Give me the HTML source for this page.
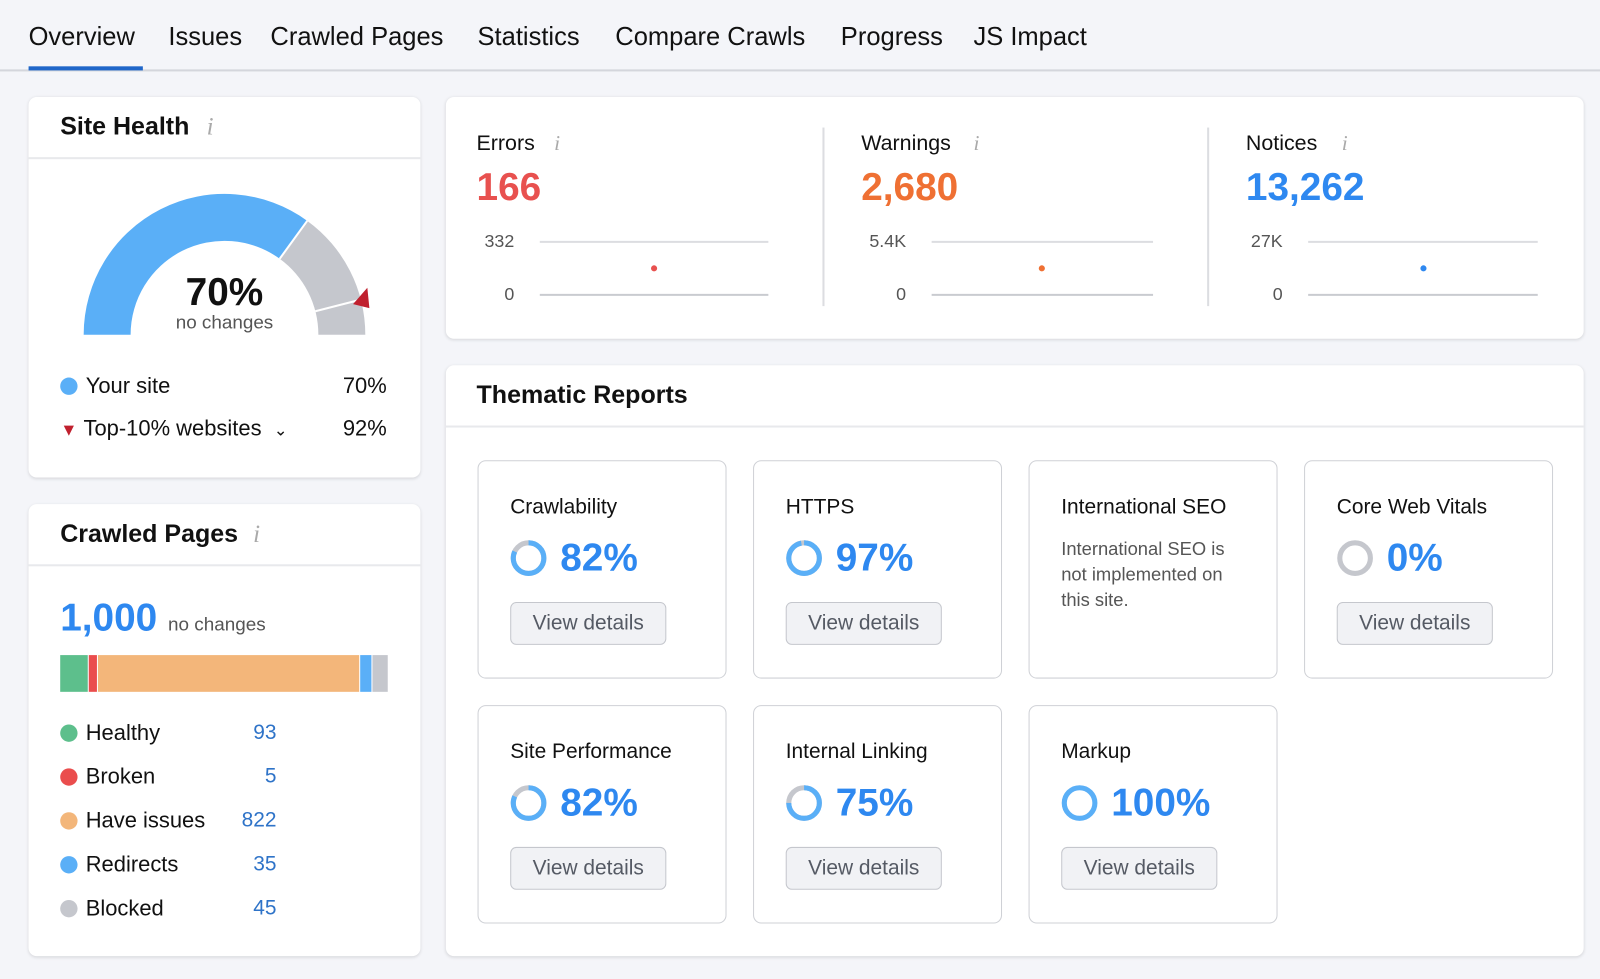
<!DOCTYPE html>
<html><head><meta charset="utf-8"><style>
html,body{margin:0;padding:0;width:1600px;height:979px;overflow:hidden;background:#f4f5f9;font-family:"Liberation Sans",Arial,sans-serif;color:#111}
#w{position:absolute;left:0;top:0;width:1568px;height:959px;transform:scale(1.0204);transform-origin:0 0}
.a{position:absolute;white-space:nowrap}
.card{position:absolute;background:#fff;border-radius:8px;box-shadow:0 1px 3px rgba(0,0,0,.12)}
.tile{position:absolute;width:242px;height:212px;border:1.5px solid #cfd1d6;border-radius:8px;background:#fff}
.tile .t{position:absolute;left:31px;top:33px;font-size:20.5px}
.tile .p{position:absolute;left:80px;top:74px;font-size:38px;font-weight:bold;color:#2e88f0}
.tile svg{position:absolute;left:31px;top:77px}
.tile .b{position:absolute;left:31px;top:138px;width:151px;height:40px;border:1.5px solid #c5c7cd;border-radius:6px;background:#f1f2f5;color:#555a64;font-size:20.5px;line-height:40px;text-align:center}
.lg{font-size:21.5px}
.dot{display:inline-block;width:17px;height:17px;border-radius:50%;vertical-align:-2px;margin-right:8px}
.num{font-size:20.5px;color:#2e73c8}
.tab{position:absolute;top:22px;font-size:25px;white-space:nowrap}
</style></head><body><div id="w">
<div class="tab" style="left:28px">Overview</div>
<div class="tab" style="left:165px">Issues</div>
<div class="tab" style="left:265px">Crawled Pages</div>
<div class="tab" style="left:468px">Statistics</div>
<div class="tab" style="left:603px">Compare Crawls</div>
<div class="tab" style="left:824px">Progress</div>
<div class="tab" style="left:954px">JS Impact</div>
<div class="a" style="left:0;top:68px;width:1568px;height:2px;background:#d4d6dc"></div>
<div class="a" style="left:28px;top:65px;width:112px;height:4px;background:#1f66c9"></div>

<div class="card" style="left:28px;top:95px;width:384px;height:373px">
<div class="a" style="left:31px;top:16px;font-size:24.5px;font-weight:bold">Site Health <span style="color:#aaa;font-style:italic;font-weight:normal;font-family:'Liberation Serif',serif;margin-left:10px">i</span></div>
<div class="a" style="left:0;top:59px;width:384px;height:2px;background:#e8e9ec"></div>
</div>
<svg class="a" style="left:28px;top:95px" width="384" height="373">
<g transform="translate(192,233)">
<path d="M-138 0 A138 138 0 0 1 81.1 -111.6 L54.1 -74.4 A92 92 0 0 0 -92 0Z" fill="#5aaff7"/>
<path d="M81.1 -111.6 A138 138 0 0 1 138 0 L92 0 A92 92 0 0 0 54.1 -74.4Z" fill="#c5c7cd"/>
<line x1="54.1" y1="-74.4" x2="81.1" y2="-111.6" stroke="#fff" stroke-width="2"/>
<line x1="89" y1="-23" x2="134" y2="-34.5" stroke="#fff" stroke-width="2"/>
<path d="M126 -30 L140 -46 L142 -26Z" fill="#c0202e"/>
</g>
<text x="192" y="204" text-anchor="middle" font-size="38" font-weight="bold" fill="#111">70%</text>
<text x="192" y="227" text-anchor="middle" font-size="18.5" fill="#555">no changes</text>
</svg>
<div class="a lg" style="left:59px;top:366px"><span class="dot" style="background:#5aaff7"></span>Your site</div>
<div class="a lg" style="left:336px;top:366px">70%</div>
<div class="a lg" style="left:59px;top:408px"><span style="color:#c0202e;font-size:17px;margin-right:6px">▼</span>Top-10% websites <span style="font-size:16px;margin-left:6px">⌄</span></div>
<div class="a lg" style="left:336px;top:408px">92%</div>

<div class="card" style="left:28px;top:494px;width:384px;height:443px">
<div class="a" style="left:31px;top:16px;font-size:24.5px;font-weight:bold">Crawled Pages <span style="color:#aaa;font-style:italic;font-weight:normal;font-family:'Liberation Serif',serif;margin-left:8px">i</span></div>
<div class="a" style="left:0;top:59px;width:384px;height:2px;background:#e8e9ec"></div>
</div>
<div class="a" style="left:59px;top:585px;font-size:38px;font-weight:bold;color:#2e88f0">1,000 <span style="font-size:18.5px;font-weight:normal;color:#555">no changes</span></div>
<div class="a" style="left:59px;top:642px;width:321px;height:36px;display:flex;gap:1px">
<div style="width:27px;background:#5dbf8c"></div><div style="width:8px;background:#ea4d4d"></div><div style="width:256px;background:#f3b67a"></div><div style="width:11px;background:#5aaff7"></div><div style="flex:1;background:#c5c7cd"></div></div>
<div class="a lg" style="left:59px;top:706px"><span class="dot" style="background:#5dbf8c"></span>Healthy</div><div class="a num" style="left:200px;width:71px;text-align:right;top:706px">93</div>
<div class="a lg" style="left:59px;top:749px"><span class="dot" style="background:#ea4d4d"></span>Broken</div><div class="a num" style="left:200px;width:71px;text-align:right;top:749px">5</div>
<div class="a lg" style="left:59px;top:792px"><span class="dot" style="background:#f3b67a"></span>Have issues</div><div class="a num" style="left:200px;width:71px;text-align:right;top:792px">822</div>
<div class="a lg" style="left:59px;top:835px"><span class="dot" style="background:#5aaff7"></span>Redirects</div><div class="a num" style="left:200px;width:71px;text-align:right;top:835px">35</div>
<div class="a lg" style="left:59px;top:878px"><span class="dot" style="background:#c5c7cd"></span>Blocked</div><div class="a num" style="left:200px;width:71px;text-align:right;top:878px">45</div>

<div class="card" style="left:437px;top:95px;width:1115px;height:237px"></div>
<div class="a" style="left:806px;top:125px;width:2px;height:175px;background:#dcdde1"></div>
<div class="a" style="left:1183px;top:125px;width:2px;height:175px;background:#dcdde1"></div>
<svg class="a" style="left:437px;top:95px" width="1115" height="237" font-family="Liberation Sans, sans-serif">
<g>
<text x="30" y="52" font-size="21" fill="#111">Errors</text><text x="106" y="52" font-size="21" fill="#aaa" font-style="italic" font-family="Liberation Serif">i</text>
<text x="30" y="101" font-size="38" font-weight="bold" fill="#e8514f">166</text>
<text x="67" y="147" font-size="17.5" fill="#555" text-anchor="end">332</text><text x="67" y="199" font-size="17.5" fill="#555" text-anchor="end">0</text>
<line x1="92" y1="142" x2="316" y2="142" stroke="#dcdde1" stroke-width="2"/><line x1="92" y1="194" x2="316" y2="194" stroke="#c9cbd0" stroke-width="2"/>
<circle cx="204" cy="168" r="3" fill="#e8514f"/>
</g>
<g transform="translate(377,0)">
<text x="30" y="52" font-size="21" fill="#111">Warnings</text><text x="140" y="52" font-size="21" fill="#aaa" font-style="italic" font-family="Liberation Serif">i</text>
<text x="30" y="101" font-size="38" font-weight="bold" fill="#ef7033">2,680</text>
<text x="74" y="147" font-size="17.5" fill="#555" text-anchor="end">5.4K</text><text x="74" y="199" font-size="17.5" fill="#555" text-anchor="end">0</text>
<line x1="99" y1="142" x2="316" y2="142" stroke="#dcdde1" stroke-width="2"/><line x1="99" y1="194" x2="316" y2="194" stroke="#c9cbd0" stroke-width="2"/>
<circle cx="207" cy="168" r="3" fill="#ef7033"/>
</g>
<g transform="translate(754,0)">
<text x="30" y="52" font-size="21" fill="#111">Notices</text><text x="124" y="52" font-size="21" fill="#aaa" font-style="italic" font-family="Liberation Serif">i</text>
<text x="30" y="101" font-size="38" font-weight="bold" fill="#2e88f0">13,262</text>
<text x="66" y="147" font-size="17.5" fill="#555" text-anchor="end">27K</text><text x="66" y="199" font-size="17.5" fill="#555" text-anchor="end">0</text>
<line x1="91" y1="142" x2="316" y2="142" stroke="#dcdde1" stroke-width="2"/><line x1="91" y1="194" x2="316" y2="194" stroke="#c9cbd0" stroke-width="2"/>
<circle cx="204" cy="168" r="3" fill="#2e88f0"/>
</g>
</svg>

<div class="card" style="left:437px;top:358px;width:1115px;height:579px">
<div class="a" style="left:30px;top:16px;font-size:24.5px;font-weight:bold">Thematic Reports</div>
<div class="a" style="left:0;top:59px;width:1115px;height:2px;background:#e8e9ec"></div>
</div>

<div class="tile" style="left:468px;top:451px"><div class="t">Crawlability</div>
<svg width="36" height="36"><circle cx="18" cy="18" r="15" fill="none" stroke="#c5c7cd" stroke-width="5"/><circle cx="18" cy="18" r="15" fill="none" stroke="#5aaff7" stroke-width="5" stroke-dasharray="77.3 94.2" transform="rotate(-90 18 18)"/></svg>
<div class="p">82%</div><div class="b">View details</div></div>
<div class="tile" style="left:738px;top:451px"><div class="t">HTTPS</div>
<svg width="36" height="36"><circle cx="18" cy="18" r="15" fill="none" stroke="#c5c7cd" stroke-width="5"/><circle cx="18" cy="18" r="15" fill="none" stroke="#5aaff7" stroke-width="5" stroke-dasharray="91.4 94.2" transform="rotate(-90 18 18)"/></svg>
<div class="p">97%</div><div class="b">View details</div></div>
<div class="tile" style="left:1008px;top:451px"><div class="t">International SEO</div>
<div class="a" style="left:31px;top:74px;font-size:18px;color:#555;line-height:25px;white-space:normal;width:175px">International SEO is not implemented on this site.</div></div>
<div class="tile" style="left:1278px;top:451px"><div class="t">Core Web Vitals</div>
<svg width="36" height="36"><circle cx="18" cy="18" r="15" fill="none" stroke="#c5c7cd" stroke-width="5"/></svg>
<div class="p">0%</div><div class="b">View details</div></div>

<div class="tile" style="left:468px;top:691px"><div class="t">Site Performance</div>
<svg width="36" height="36"><circle cx="18" cy="18" r="15" fill="none" stroke="#c5c7cd" stroke-width="5"/><circle cx="18" cy="18" r="15" fill="none" stroke="#5aaff7" stroke-width="5" stroke-dasharray="77.3 94.2" transform="rotate(-90 18 18)"/></svg>
<div class="p">82%</div><div class="b">View details</div></div>
<div class="tile" style="left:738px;top:691px"><div class="t">Internal Linking</div>
<svg width="36" height="36"><circle cx="18" cy="18" r="15" fill="none" stroke="#c5c7cd" stroke-width="5"/><circle cx="18" cy="18" r="15" fill="none" stroke="#5aaff7" stroke-width="5" stroke-dasharray="70.7 94.2" transform="rotate(-90 18 18)"/></svg>
<div class="p">75%</div><div class="b">View details</div></div>
<div class="tile" style="left:1008px;top:691px"><div class="t">Markup</div>
<svg width="36" height="36"><circle cx="18" cy="18" r="15" fill="none" stroke="#5aaff7" stroke-width="5"/></svg>
<div class="p">100%</div><div class="b">View details</div></div>
</div></body></html>
